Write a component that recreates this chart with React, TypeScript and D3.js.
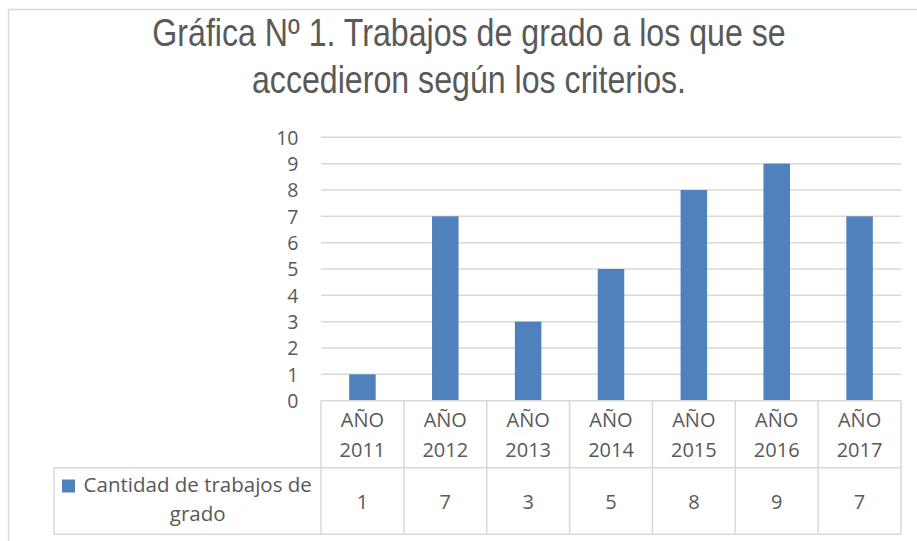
import React from 'react';
import * as d3 from 'd3';

const years = ['2011', '2012', '2013', '2014', '2015', '2016', '2017'];
const values = [1, 7, 3, 5, 8, 9, 7];
const yTicks = [0, 1, 2, 3, 4, 5, 6, 7, 8, 9, 10];
const titleLines = ['Gráfica Nº 1. Trabajos de grado a los que se', 'accedieron según los criterios.'];
const seriesName = ['Cantidad de trabajos de', 'grado'];

const W = 917;
const H = 541;
const grid = '#d9d9d9';
const textColor = '#595959';
const barColor = '#4f81bd';
const font = "'Open Sans', sans-serif";

const App: React.FC = () => {
  // plot area
  const plot = { left: 321, right: 901, top: 137.3, bottom: 400.7 };

  const x = d3.scaleBand<string>().domain(years).range([plot.left, plot.right]).padding(0);
  const y = d3.scaleLinear().domain([0, 10]).range([plot.bottom, plot.top]);
  const barW = x.bandwidth() * 0.32;

  // data table rows
  const headerBottom = 467.7;
  const tableBottom = 534.3;
  const legendLeft = 54;
  const legendTextX = 197.7;

  return (
    <div style={{ position: 'absolute', left: 0, top: 0 }}>
      <svg width={W} height={H} style={{ display: 'block', background: '#fff' }}>
        {/* chart border */}
        <line x1={8.5} x2={W} y1={9.5} y2={9.5} stroke={grid} strokeWidth={1.5} />
        <line x1={8.5} x2={8.5} y1={9.5} y2={H} stroke={grid} strokeWidth={1.5} />

        {/* title, narrow look via horizontal squeeze */}
        <g
          transform="translate(469,0) scale(0.835,1)"
          fill={textColor}
          fontFamily="'Liberation Sans', Arial, sans-serif"
          fontSize={38.5}
          textAnchor="middle"
        >
          {titleLines.map((t, i) => (
            <text key={t} x={0} y={46 + i * 47}>
              {t}
            </text>
          ))}
        </g>

        {/* gridlines */}
        {yTicks.filter((d) => d > 0).map((d) => (
          <line key={d} x1={plot.left} x2={plot.right} y1={y(d)} y2={y(d)} stroke={grid} strokeWidth={1.5} />
        ))}

        {/* y tick labels */}
        <g fill={textColor} fontFamily={font} fontSize={19.5} textAnchor="end">
          {yTicks.map((d) => (
            <text key={d} x={298.5} y={y(d)} dy="0.37em">
              {d}
            </text>
          ))}
        </g>

        {/* bars */}
        {values.map((v, i) => (
          <rect
            key={years[i]}
            x={(x(years[i]) || 0) + (x.bandwidth() - barW) / 2}
            y={y(v)}
            width={barW}
            height={y(0) - y(v)}
            fill={barColor}
          />
        ))}

        {/* data table */}
        <g stroke={grid} strokeWidth={1.5}>
          <line x1={plot.left} x2={plot.right} y1={plot.bottom} y2={plot.bottom} />
          <line x1={legendLeft} x2={plot.right} y1={headerBottom} y2={headerBottom} />
          <line x1={legendLeft} x2={plot.right} y1={tableBottom} y2={tableBottom} />
          <line x1={legendLeft} x2={legendLeft} y1={headerBottom} y2={tableBottom} />
          {years.map((yr) => (
            <line key={yr} x1={x(yr)} x2={x(yr)} y1={plot.bottom} y2={tableBottom} />
          ))}
          <line x1={plot.right} x2={plot.right} y1={plot.bottom} y2={tableBottom} />
        </g>

        <g fill={textColor} fontFamily={font} fontSize={20} textAnchor="middle">
          {years.map((yr, i) => {
            const cx = (x(yr) || 0) + x.bandwidth() / 2;
            return (
              <g key={yr}>
                <text x={cx} y={427}>AÑO</text>
                <text x={cx} y={456.5}>{yr}</text>
                <text x={cx} y={508.5}>{values[i]}</text>
              </g>
            );
          })}
          <text x={legendTextX} y={491.5} fontSize={20.5}>{seriesName[0]}</text>
          <text x={legendTextX} y={520.5} fontSize={20.5}>{seriesName[1]}</text>
        </g>
        <rect x={62} y={479.5} width={13} height={13} fill={barColor} />
      </svg>
    </div>
  );
};

export default App;
